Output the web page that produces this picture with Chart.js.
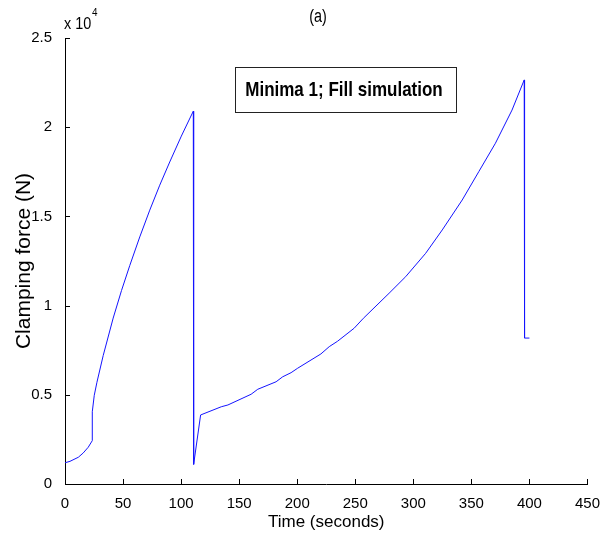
<!DOCTYPE html>
<html><head><meta charset="utf-8">
<script src="https://cdn.jsdelivr.net/npm/chart.js@4"></script>
<style>html,body{margin:0;padding:0;background:#fff}</style>
</head><body>
<canvas id="c" width="603" height="540" style="width:603px;height:540px;display:block"></canvas>
<script>
// ---- data ----
const timeSeconds = [0, 4.3, 11.5, 15.7, 20, 23.5, 23.5, 25.2, 27.5, 32.9, 41.5, 48.7, 55.8, 64.4, 73, 81.6, 90.2, 100.2, 110.5,
  110.8, 116.8, 134.6, 140.3, 160.3, 166, 181.8, 187.5, 194.7, 200.4, 220.4, 227.6, 234.7, 249, 257, 279.1, 293.4, 310.6,
  324.9, 342.1, 356.4, 370.7, 385, 395.5, 395.8, 400];
const clampingForce = [1190, 1270, 1500, 1740, 2060, 2430, 4050, 4970, 5700, 7200, 9300, 10850, 12250, 13850, 15350, 16750, 18050, 19500, 20900,
  1100, 3870, 4330, 4430, 5030, 5310, 5730, 6010, 6240, 6490, 7290, 7700, 8000, 8730, 9290, 10690, 11620, 12930,
  14240, 15920, 17510, 19100, 20960, 22650, 8180, 8180];
const xTickValues = [0, 50, 100, 150, 200, 250, 300, 350, 400, 450];
const yTickValues = [0, 5000, 10000, 15000, 20000, 25000];
const yTickLabels = ['0', '0.5', '1', '1.5', '2', '2.5'];
const chartTitle = '(a)';
const xTitle = 'Time (seconds)';
const yTitle = 'Clamping force (N)';
const boxText = 'Minima 1; Fill simulation';

const REG = "'Liberation Sans', Arial, sans-serif";

function squeezedText(ctx, text, x, y, sx) {
  ctx.save();
  ctx.translate(x, y);
  ctx.scale(sx, 1);
  ctx.fillText(text, 0, 0);
  ctx.restore();
}

const decor = {
  id: 'decor',
  afterDraw(chart) {
    const ctx = chart.ctx;
    const xs = chart.scales.x, ys = chart.scales.y;
    ctx.save();
    // inward tick marks
    ctx.strokeStyle = '#000'; ctx.lineWidth = 1;
    ctx.beginPath();
    xTickValues.forEach(v => {
      const px = Math.round(xs.getPixelForValue(v)) + 0.5;
      ctx.moveTo(px, ys.bottom); ctx.lineTo(px, ys.bottom - 5);
    });
    yTickValues.forEach(v => {
      const py = Math.round(ys.getPixelForValue(v)) + 0.5;
      ctx.moveTo(xs.left, py); ctx.lineTo(xs.left + 5, py);
    });
    ctx.stroke();
    ctx.fillStyle = '#000';
    ctx.textBaseline = 'alphabetic';
    // title
    ctx.textAlign = 'center';
    ctx.font = "18px " + REG;
    squeezedText(ctx, chartTitle, 318, 22, 0.8);
    // exponent label
    ctx.textAlign = 'left';
    ctx.font = "16px " + REG;
    squeezedText(ctx, 'x 10', 64, 29, 0.9);
    ctx.font = "11px " + REG;
    squeezedText(ctx, '4', 92, 16, 0.9);
    // annotation box
    ctx.fillStyle = '#fff';
    ctx.fillRect(235, 67, 221, 45);
    ctx.strokeStyle = '#222';
    ctx.lineWidth = 1;
    ctx.strokeRect(235.5, 67.5, 221, 45);
    ctx.fillStyle = '#000';
    ctx.textAlign = 'center';
    ctx.font = "bold 21px " + REG;
    squeezedText(ctx, boxText, 344, 96, 0.81);
    ctx.restore();
  }
};

new Chart(document.getElementById('c'), {
  type: 'line',
  data: {
    datasets: [{
      data: timeSeconds.map((t, i) => ({ x: t, y: clampingForce[i] })),
      borderColor: '#1414ff',
      borderWidth: 1,
      pointRadius: 0,
      tension: 0,
      fill: false
    }]
  },
  options: {
    responsive: false,
    animation: false,
    devicePixelRatio: 1,
    layout: { padding: { left: 0, right: 14, top: 38, bottom: 0 } },
    plugins: { legend: { display: false }, tooltip: { enabled: false }, title: { display: false } },
    scales: {
      x: {
        type: 'linear', min: 0, max: 450,
        afterBuildTicks: s => { s.ticks = xTickValues.map(v => ({ value: v })); },
        grid: { display: false },
        border: { display: true, color: '#000', width: 1 },
        ticks: { font: { family: REG, size: 15 }, color: '#000', padding: 3, maxRotation: 0, autoSkip: false },
        title: { display: true, text: xTitle, font: { family: REG, size: 17 }, color: '#000', padding: { top: 0, bottom: 7 } },
        afterFit: s => { s.height = 56; }
      },
      y: {
        type: 'linear', min: 0, max: 25000,
        afterBuildTicks: s => { s.ticks = yTickValues.map(v => ({ value: v })); },
        grid: { display: false },
        border: { display: true, color: '#000', width: 1 },
        ticks: {
          font: { family: REG, size: 15 }, color: '#000', padding: 5, autoSkip: false,
          callback: (v) => { const i = yTickValues.indexOf(v); return i >= 0 ? yTickLabels[i] : ''; }
        },
        title: { display: true, text: yTitle, font: { family: REG, size: 21 }, color: '#000', padding: { top: 12, bottom: 0 } },
        afterFit: s => { s.width = 65; }
      }
    }
  },
  plugins: [decor]
});
</script>
</body></html>
